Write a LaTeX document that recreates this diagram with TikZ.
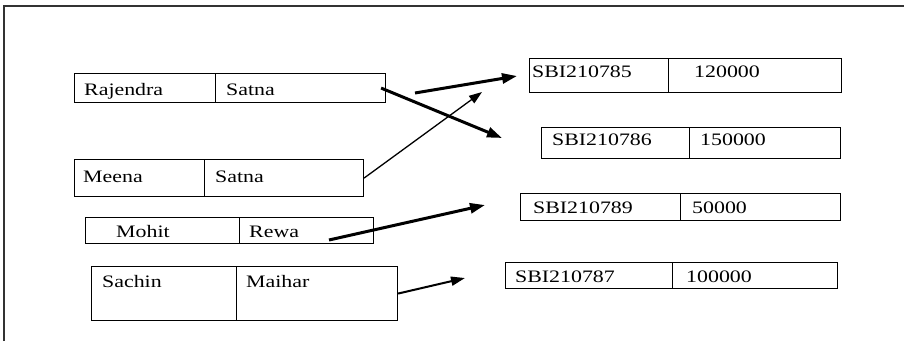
\documentclass[tikz,border=0pt]{standalone}
\usepackage{fontspec}
\setmainfont{Liberation Serif}[FakeStretch=1.25]
\usetikzlibrary{arrows.meta}
\begin{document}
\begin{tikzpicture}[x=1pt,y=-1pt,
  cell/.style={draw,line width=1.1pt,inner sep=0pt,anchor=north west},
  txt/.style={anchor=base west,inner sep=0pt,font=\fontsize{17.5}{20}\selectfont},
  heavyarr/.style={line width=3pt,-{Triangle[length=15pt,width=10pt]}},
  midarr/.style={line width=2pt,-{Triangle[length=14pt,width=9pt]}},
  thinarr/.style={line width=1.3pt,-{Triangle[length=13pt,width=9pt]}},
  frame/.style={line width=1.5pt,draw=black!80}]
\useasboundingbox (0,0) rectangle (904,341);
% frame
\draw[frame] (4,341) -- (4,6) -- (904,6);
% left records
\node[cell,minimum width=141pt,minimum height=29pt] (rajN) at (74,73) {};
\node[cell,minimum width=170pt,minimum height=29pt] (rajC) at (215,73) {};
\node[cell,minimum width=130pt,minimum height=37pt] (meeN) at (74,159) {};
\node[cell,minimum width=159pt,minimum height=37pt] (meeC) at (204,159) {};
\node[cell,minimum width=154pt,minimum height=26pt] (mohN) at (85,217) {};
\node[cell,minimum width=134pt,minimum height=26pt] (mohC) at (239,217) {};
\node[cell,minimum width=145pt,minimum height=54pt] (sacN) at (91,266) {};
\node[cell,minimum width=161pt,minimum height=54pt] (sacC) at (236,266) {};
% right records
\node[cell,minimum width=139pt,minimum height=34pt] (r1A) at (529,58) {};
\node[cell,minimum width=173pt,minimum height=34pt] (r1B) at (668,58) {};
\node[cell,minimum width=148pt,minimum height=31pt] (r2A) at (541,127) {};
\node[cell,minimum width=151pt,minimum height=31pt] (r2B) at (689,127) {};
\node[cell,minimum width=160pt,minimum height=27pt] (r3A) at (520,193) {};
\node[cell,minimum width=160pt,minimum height=27pt] (r3B) at (680,193) {};
\node[cell,minimum width=167pt,minimum height=26pt] (r4A) at (505,262) {};
\node[cell,minimum width=165pt,minimum height=26pt] (r4B) at (672,262) {};
% texts
\node[txt] (tRaj) at (84,95) {Rajendra};
\node[txt] (tRajC) at (226,95) {Satna};
\node[txt] (tMee) at (83,182) {Meena};
\node[txt] (tMeeC) at (215,182) {Satna};
\node[txt] (tMoh) at (116,237) {Mohit};
\node[txt] (tMohC) at (249,237) {Rewa};
\node[txt] (tSac) at (102,287) {Sachin};
\node[txt] (tSacC) at (246,287) {Maihar};
\node[txt] (t1A) at (532,77) {SBI210785};
\node[txt] (t1B) at (694,77) {120000};
\node[txt] (t2A) at (552,145) {SBI210786};
\node[txt] (t2B) at (700,145) {150000};
\node[txt] (t3A) at (533,213) {SBI210789};
\node[txt] (t3B) at (692,213) {50000};
\node[txt] (t4A) at (515,282) {SBI210787};
\node[txt] (t4B) at (686,282) {100000};
% arrows
\coordinate (e1) at (502,138);
\coordinate (s2) at (415,93);
\coordinate (e2) at (517,76);
\coordinate (e3) at (482,92);
\coordinate (s4) at (329,240);
\coordinate (e4) at (485,205);
\coordinate (e5) at (465,278);
\draw[heavyarr] ([xshift=-5pt]rajC.east) -- (e1);
\draw[heavyarr] (s2) -- (e2);
\draw[thinarr] (meeC.east) -- (e3);
\draw[heavyarr] (s4) -- (e4);
\draw[midarr] (sacC.east) -- (e5);
\end{tikzpicture}
\end{document}
